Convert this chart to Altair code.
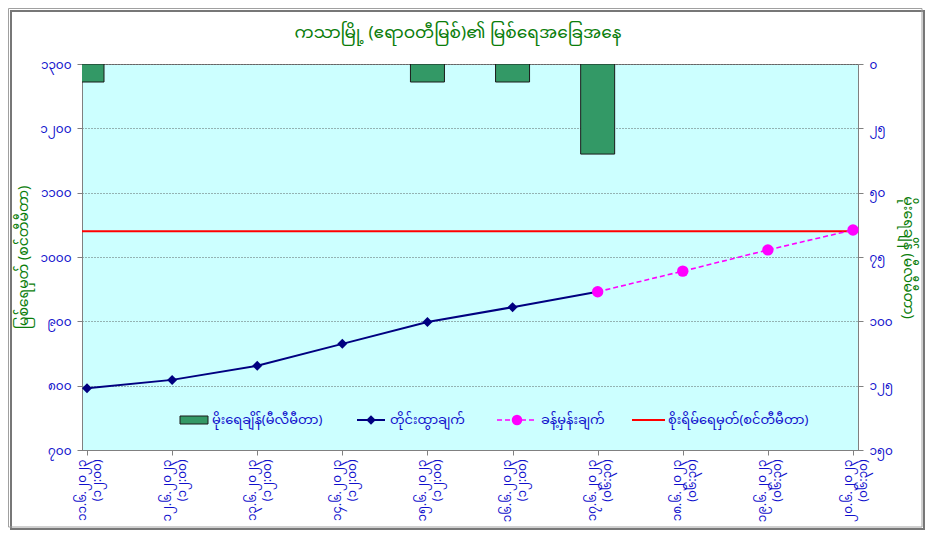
import json
import altair as alt
import pandas as pd

# ---------------- data ----------------
dates = ["၁၁.၆.၂၀၂၃", "၁၂.၆.၂၀၂၃", "၁၃.၆.၂၀၂၃", "၁၄.၆.၂၀၂၃", "၁၅.၆.၂၀၂၃",
         "၁၆.၆.၂၀၂၃", "၁၇.၆.၂၀၂၃", "၁၈.၆.၂၀၂၃", "၁၉.၆.၂၀၂၃", "၂၀.၆.၂၀၂၃"]
times = ["(၁၂:၀၀)"] * 6 + ["(၀၆:၃၀)"] * 4
x_index = list(range(10))

obs_index = [0, 1, 2, 3, 4, 5, 6]
obs_stage = [796, 809, 831, 865, 899, 922, 946]

fc_index = [6, 7, 8, 9]
fc_stage = [946, 978, 1011, 1042]

rain_index = [0, 1, 2, 3, 4, 5, 6]
rain_mm = [7, 0, 0, 0, 7, 7, 35]

danger_level = 1040

left_ticks = [700, 800, 900, 1000, 1100, 1200, 1300]
left_labels = ["၇၀၀", "၈၀၀", "၉၀၀", "၁၀၀၀", "၁၁၀၀", "၁၂၀၀", "၁၃၀၀"]
right_ticks = [0, 25, 50, 75, 100, 125, 150]
right_labels = ["၀", "၂၅", "၅၀", "၇၅", "၁၀၀", "၁၂၅", "၁၅၀"]

title_text = "ကသာမြို့ (ဧရာဝတီမြစ်)၏ မြစ်ရေအခြေအနေ"
left_title = "မြစ်ရေမှတ် (စင်တီမီတာ)"
right_title = "မိုးရေချိန် (မီလီမီတာ)"
legend_texts = ["မိုးရေချိန်(မီလီမီတာ)", "တိုင်းထွာချက်", "ခန့်မှန်းချက်", "စိုးရိမ်ရေမှတ်(စင်တီမီတာ)"]

# ---------------- frames ----------------
obs_df = pd.DataFrame({"i": obs_index, "stage": obs_stage})
fc_df = pd.DataFrame({"i": fc_index, "stage": fc_stage})
rain_df = pd.DataFrame({"i": rain_index, "rain": rain_mm})
danger_df = pd.DataFrame({"stage": [danger_level]})
one = pd.DataFrame({"k": [1]})

FONT = "Noto Sans Myanmar, Padauk, Myanmar Text, Noto Sans, DejaVu Sans, sans-serif"
BLUE = "#1010CC"
GREEN = "#0A7D0A"

W, H = 776, 386

D = json.dumps(dates, ensure_ascii=False)
T = json.dumps(times, ensure_ascii=False)
LL = json.dumps(left_labels, ensure_ascii=False)
RL = json.dumps(right_labels, ensure_ascii=False)

xscale = alt.Scale(domain=[0, 9], nice=False, zero=False)
xaxis = alt.Axis(values=x_index, labelExpr=f"[{D}[datum.value], {T}[datum.value]]",
                 labelAngle=270, labelAlign="right", labelBaseline="middle",
                 labelColor=BLUE, labelFontSize=12, labelLineHeight=15, labelPadding=4,
                 labelOffset=-6,
                 labelFont=FONT, tickColor="#808080", tickSize=5, domainColor="#808080",
                 grid=False, title=None, labelOverlap=False)

stage_scale = alt.Scale(domain=[700, 1300], nice=False, zero=False)
left_axis = alt.Axis(orient="left", values=left_ticks,
                     labelExpr=f"{LL}[round((datum.value-700)/100)]",
                     labelColor=BLUE, labelFontSize=12, labelFont=FONT, labelPadding=6,
                     tickColor="#808080", tickSize=5, domainColor="#808080",
                     grid=True, gridColor="#404040", gridDash=[1, 2], gridWidth=0.8,
                     title=left_title, titleColor=GREEN, titleFontSize=14, titleFont=FONT,
                     titleFontWeight="normal", titlePadding=9)
ystage = alt.Y("stage:Q", scale=stage_scale, axis=left_axis)

rain_axis = alt.Axis(orient="right", values=right_ticks,
                     labelExpr=f"{RL}[round(datum.value/25)]",
                     labelColor=BLUE, labelFontSize=12, labelFont=FONT, labelPadding=6,
                     tickColor="#808080", tickSize=5, domainColor="#808080", grid=False,
                     title=right_title, titleColor=GREEN, titleFontSize=14, titleFont=FONT,
                     titleFontWeight="normal", titlePadding=8)

bars = alt.Chart(rain_df).transform_filter("datum.rain > 0").mark_bar(
    size=34, color="#339966", stroke="#1a1a1a", strokeWidth=1, clip=True
).encode(
    x=alt.X("i:Q", scale=xscale, axis=xaxis),
    y=alt.Y("rain:Q", scale=alt.Scale(domain=[0, 150], reverse=True, nice=False), axis=rain_axis),
)

xq = alt.X("i:Q", scale=xscale, axis=xaxis)

danger = alt.Chart(danger_df).mark_rule(color="#FF0000", strokeWidth=2).encode(y=ystage)
obs_line = alt.Chart(obs_df).mark_line(color="#000080", strokeWidth=2).encode(x=xq, y=ystage)
obs_pts = alt.Chart(obs_df).mark_point(shape="diamond", filled=True, color="#000080",
                                       size=100, opacity=1).encode(x=xq, y=ystage)
fc_line = alt.Chart(fc_df).mark_line(color="#FF00FF", strokeWidth=1.6,
                                     strokeDash=[5, 3]).encode(x=xq, y=ystage)
fc_pts = alt.Chart(fc_df).mark_point(shape="circle", filled=True, color="#FF00FF",
                                     size=130, opacity=1).encode(x=xq, y=ystage)

# legend (drawn inside the plot area)
LY = 356
leg = [
    alt.Chart(one).mark_rect(fill="#339966", stroke="#1a1a1a", strokeWidth=1).encode(
        x=alt.value(98), x2=alt.value(126), y=alt.value(LY - 4), y2=alt.value(LY + 4)),
    alt.Chart(one).mark_rule(color="#000080", strokeWidth=2).encode(
        x=alt.value(275), x2=alt.value(303), y=alt.value(LY)),
    alt.Chart(one).mark_point(shape="diamond", filled=True, color="#000080", size=90, opacity=1).encode(
        x=alt.value(289), y=alt.value(LY)),
    alt.Chart(one).mark_rule(color="#FF00FF", strokeWidth=1.6, strokeDash=[5, 3]).encode(
        x=alt.value(415), x2=alt.value(455), y=alt.value(LY)),
    alt.Chart(one).mark_point(shape="circle", filled=True, color="#FF00FF", size=110, opacity=1).encode(
        x=alt.value(435), y=alt.value(LY)),
    alt.Chart(one).mark_rule(color="#FF0000", strokeWidth=2).encode(
        x=alt.value(550), x2=alt.value(583), y=alt.value(LY)),
]
leg_x = [130, 308, 459, 586]
for tx, t in zip(leg_x, legend_texts):
    leg.append(alt.Chart(one).mark_text(align="left", baseline="middle", fontSize=13,
                                        color=BLUE, font=FONT).encode(
        x=alt.value(tx), y=alt.value(LY), text=alt.value(t)))

title_mark = alt.Chart(one).mark_text(align="center", baseline="middle", fontSize=17,
                                      color=GREEN, font=FONT).encode(
    x=alt.value(W / 2 - 12), y=alt.value(-31), text=alt.value(title_text))

frame = [
    alt.Chart(one).mark_rect(fill="transparent", stroke="#777777", strokeWidth=2).encode(
        x=alt.value(-71), x2=alt.value(W + 66), y=alt.value(-53), y2=alt.value(H + 79)),
    alt.Chart(one).mark_rect(fill="transparent", stroke="#a0a0a0", strokeWidth=1).encode(
        x=alt.value(-73.5), x2=alt.value(W + 64), y=alt.value(-55.5), y2=alt.value(H + 77)),
]

stage_layer = alt.layer(danger, obs_line, obs_pts, fc_line, fc_pts, *leg, title_mark, *frame)

chart = alt.layer(bars, stage_layer).resolve_scale(y="independent").properties(
    width=W, height=H,
    autosize=alt.AutoSizeParams(type="none"),
    padding={"left": 74, "top": 56, "right": 67, "bottom": 80},
).configure(background="white").configure_view(fill="#CCFFFF", stroke="#808080")

chart.save("out.html", embed_options={"renderer": "svg", "actions": False})
